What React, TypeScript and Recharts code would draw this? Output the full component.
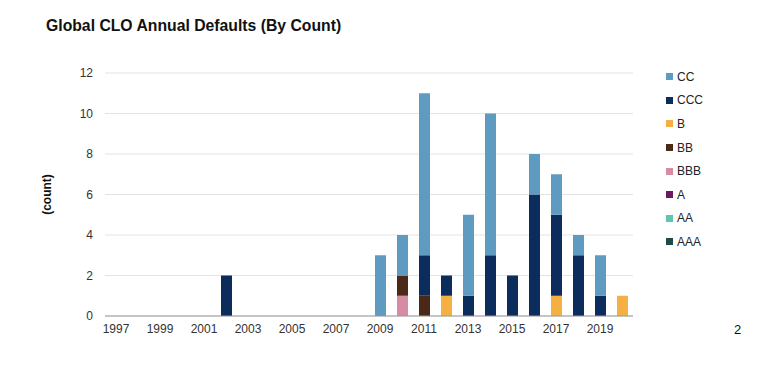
import React from 'react';
import { BarChart, Bar, XAxis, YAxis, CartesianGrid } from 'recharts';

const years = ['1997','1998','1999','2000','2001','2002','2003','2004','2005','2006','2007','2008','2009','2010','2011','2012','2013','2014','2015','2016','2017','2018','2019','2020'];
const AAA = [0,0,0,0,0,0,0,0,0,0,0,0,0,0,0,0,0,0,0,0,0,0,0,0];
const AA  = [0,0,0,0,0,0,0,0,0,0,0,0,0,0,0,0,0,0,0,0,0,0,0,0];
const A   = [0,0,0,0,0,0,0,0,0,0,0,0,0,0,0,0,0,0,0,0,0,0,0,0];
const BBB = [0,0,0,0,0,0,0,0,0,0,0,0,0,1,0,0,0,0,0,0,0,0,0,0];
const BB  = [0,0,0,0,0,0,0,0,0,0,0,0,0,1,1,0,0,0,0,0,0,0,0,0];
const B   = [0,0,0,0,0,0,0,0,0,0,0,0,0,0,0,1,0,0,0,0,1,0,0,1];
const CCC = [0,0,0,0,0,2,0,0,0,0,0,0,0,0,2,1,1,3,2,6,4,3,1,0];
const CC  = [0,0,0,0,0,0,0,0,0,0,0,0,3,2,8,0,4,7,0,2,2,1,2,0];
const yTicks = [0,2,4,6,8,10,12];

const series = [
  { key: 'AAA', values: AAA, color: '#1f4a45' },
  { key: 'AA', values: AA, color: '#5cc6ae' },
  { key: 'A', values: A, color: '#6b1a5e' },
  { key: 'BBB', values: BBB, color: '#d68da4' },
  { key: 'BB', values: BB, color: '#4a2919' },
  { key: 'B', values: B, color: '#f4b042' },
  { key: 'CCC', values: CCC, color: '#0b2c5c' },
  { key: 'CC', values: CC, color: '#5f9bc1' },
];

const data = years.map((y, i) => {
  const row: any = { year: y };
  series.forEach(s => { row[s.key] = s.values[i]; });
  return row;
});

const font = '"Liberation Sans", Arial, sans-serif';

export default function App() {
  return (
    <div style={{ position: 'absolute', left: 0, top: 0, width: 770, height: 376, background: '#fff', fontFamily: font }}>
      <div style={{ position: 'absolute', left: 46, top: 17, fontSize: 15.75, fontWeight: 'bold', color: '#111' }}>
        Global CLO Annual Defaults (By Count)
      </div>
      <div style={{ position: 'absolute', left: 734, top: 322, fontSize: 13, color: '#111' }}>2</div>
      <div style={{ position: 'absolute', left: 666, top: 65, fontSize: 12, color: '#222' }}>
        {[...series].reverse().map(s => (
          <div key={s.key} style={{ display: 'flex', alignItems: 'center', height: 23.6 }}>
            <span style={{ display: 'inline-block', width: 7, height: 7, background: s.color, marginRight: 4 }} />
            <span>{s.key}</span>
          </div>
        ))}
      </div>
      <BarChart width={770} height={376} data={data} margin={{ top: 73, right: 137, bottom: 30, left: 60 }} barSize={11}>
        <CartesianGrid vertical={false} stroke="#e3e3e3" />
        <XAxis
          dataKey="year"
          interval={1}
          tickLine={false}
          axisLine={{ stroke: '#999' }}
          tick={{ fill: '#333', fontSize: 12, fontFamily: font }}
          tickMargin={2}
        />
        <YAxis
          width={45}
          domain={[0, 12]}
          ticks={yTicks}
          tickLine={false}
          axisLine={false}
          tickMargin={6}
          tick={{ fill: '#333', fontSize: 12, fontFamily: font }}
          label={{ value: '(count)', angle: -90, position: 'insideLeft', offset: -13, style: { fontSize: 12, fontWeight: 'bold', fill: '#111', fontFamily: font, textAnchor: 'middle' } }}
        />
        {series.map(s => (
          <Bar key={s.key} dataKey={s.key} stackId="a" fill={s.color} isAnimationActive={false} />
        ))}
      </BarChart>
    </div>
  );
}
